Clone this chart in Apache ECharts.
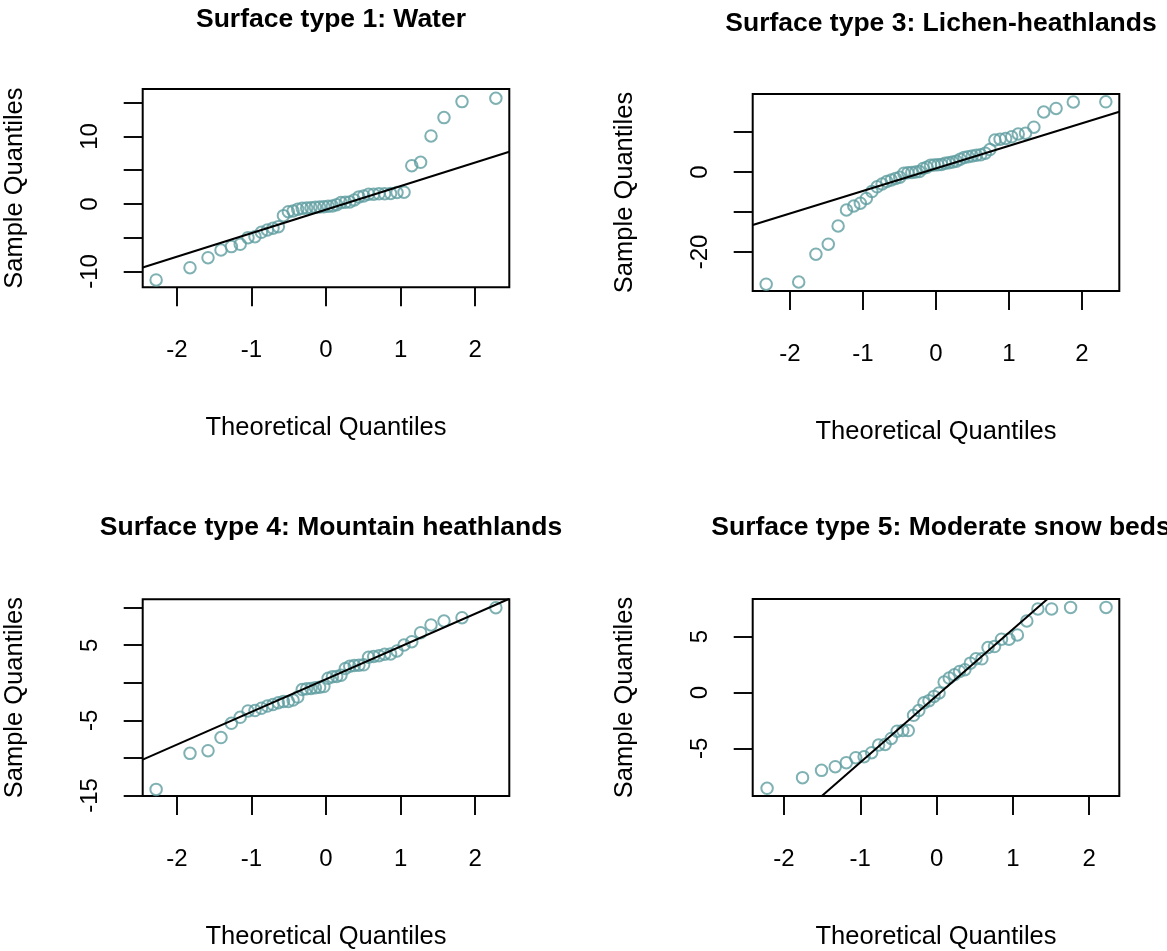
<!DOCTYPE html>
<html>
<head>
<meta charset="utf-8">
<script src="https://cdn.jsdelivr.net/npm/echarts@6/dist/echarts.min.js"></script>
<style>
html,body{margin:0;padding:0;background:#ffffff;}
#chart{width:1167px;height:951px;}
</style>
</head>
<body>
<div id="chart"></div>
<script>
// ---------- data ----------
const panelTitles = [
  'Surface type 1: Water',
  'Surface type 3: Lichen-heathlands',
  'Surface type 4: Mountain heathlands',
  'Surface type 5: Moderate snow beds'
];
const xAxisTitle = 'Theoretical Quantiles';
const yAxisTitle = 'Sample Quantiles';

// sorted sample quantiles of each panel
const water = [-11.26, -9.44, -7.96, -6.82, -6.32, -5.98, -4.99, -4.84, -4.2, -3.85, -3.6, -3.36,
  -1.73, -1.14, -1.04, -0.8, -0.65, -0.6, -0.55, -0.5, -0.45, -0.4, -0.35, -0.3, -0.1,
  0.2, 0.25, 0.3, 0.6, 1.05, 1.2, 1.45, 1.45, 1.5, 1.5, 1.55, 1.7, 1.75,
  5.68, 6.18, 10.08, 12.8, 15.17, 15.67];
const lichen = [-28.05, -27.5, -20.55, -18.05, -13.5, -9.5, -8.5, -7.8, -6.6, -4.9, -3.7, -3.0,
  -2.4, -2.0, -1.6, -1.3, -0.3, -0.2, -0.1, 0.0, 0.1, 0.9, 1.2, 1.7, 1.75, 1.8, 1.9, 2.2,
  2.3, 2.5, 2.7, 3.2, 3.6, 3.8, 4.0, 4.2, 4.3, 4.7, 5.6, 8.0, 8.2, 8.4, 8.8, 9.5, 9.7,
  11.2, 15.0, 15.9, 17.5, 17.55];
const mountain = [-14.2, -9.4, -9.05, -7.3, -5.4, -4.6, -3.75, -3.7, -3.4, -3.1, -2.9, -2.65,
  -2.5, -2.5, -2.3, -1.9, -0.9, -0.8, -0.75, -0.65, -0.6, -0.5, 0.6, 0.8, 0.85, 1.0,
  1.9, 2.2, 2.3, 2.35, 2.4, 3.4, 3.5, 3.6, 3.8, 3.85, 4.24, 5.03, 5.47, 6.67, 7.7,
  8.23, 8.67, 10.0];
const snow = [-8.56, -7.61, -6.96, -6.63, -6.27, -5.83, -5.74, -5.38, -4.70, -4.64, -4.11,
  -3.46, -3.40, -3.40, -2.04, -1.62, -0.93, -0.73, -0.35, -0.04, 0.93, 1.29, 1.58, 1.88,
  2.03, 2.62, 3.01, 3.01, 4.01, 4.10, 4.76, 4.76, 5.14, 6.39, 7.46, 7.46, 7.60, 7.60];

// reference lines (intercept, slope)
const lineIntercepts = [-0.83, 0.9, 0.48, -0.30];
const lineSlopes = [3.49, 5.64, 4.36, 5.95];

// tick values and labelled ticks
const xTickValues = [-2, -1, 0, 1, 2];
const yTickValues = [[-10, -5, 0, 5, 10, 15], [-20, -10, 0, 10], [-15, -10, -5, 0, 5, 10], [-5, 0, 5]];
const yLabelValues = [[-10, 0, 10], [-20, 0], [-15, -5, 5], [-5, 0, 5]];

// ---------- normal quantiles (as qqnorm does) ----------
function qnorm(p) {
  const a = [-3.969683028665376e+01, 2.209460984245205e+02, -2.759285104469687e+02, 1.383577518672690e+02, -3.066479806614716e+01, 2.506628277459239e+00];
  const b = [-5.447609879822406e+01, 1.615858368580409e+02, -1.556989798598866e+02, 6.680131188771972e+01, -1.328068155288572e+01];
  const c = [-7.784894002430293e-03, -3.223964580411365e-01, -2.400758277161838e+00, -2.549732539343734e+00, 4.374664141464968e+00, 2.938163982698783e+00];
  const d = [7.784695709041462e-03, 3.224671290700398e-01, 2.445134137142996e+00, 3.754408661907416e+00];
  const pl = 0.02425;
  let q, r;
  if (p < pl) {
    q = Math.sqrt(-2 * Math.log(p));
    return (((((c[0]*q+c[1])*q+c[2])*q+c[3])*q+c[4])*q+c[5]) / ((((d[0]*q+d[1])*q+d[2])*q+d[3])*q+1);
  }
  if (p > 1 - pl) {
    q = Math.sqrt(-2 * Math.log(1 - p));
    return -(((((c[0]*q+c[1])*q+c[2])*q+c[3])*q+c[4])*q+c[5]) / ((((d[0]*q+d[1])*q+d[2])*q+d[3])*q+1);
  }
  q = p - 0.5; r = q * q;
  return (((((a[0]*r+a[1])*r+a[2])*r+a[3])*r+a[4])*r+a[5])*q / (((((b[0]*r+b[1])*r+b[2])*r+b[3])*r+b[4])*r+1);
}
function ppoints(n) {
  const a = n <= 10 ? 3 / 8 : 0.5;
  const out = [];
  for (let i = 1; i <= n; i++) out.push((i - a) / (n + 1 - 2 * a));
  return out;
}

// ---------- layout ----------
const samples = [water, lichen, mountain, snow];
const layout = [
  { left: 142.7, top: 89,    width: 366.6, height: 198.3, xMin: -2.458, xMax: 2.458, yMin: -12.35, yMax: 17.04, titleTop: 1 },
  { left: 752.7, top: 94,    width: 366.6, height: 197,   xMin: -2.511, xMax: 2.511, yMin: -29.75, yMax: 19.5,  titleTop: 5 },
  { left: 142.7, top: 599.3, width: 366.6, height: 196.7, xMin: -2.458, xMax: 2.458, yMin: -15.08, yMax: 11.12, titleTop: 509.5 },
  { left: 752.7, top: 599,   width: 366.6, height: 197.7, xMin: -2.41,  xMax: 2.395, yMin: -9.25,  yMax: 8.35,  titleTop: 509.5 }
];

const FONT = 'Liberation Sans, Arial, Helvetica, sans-serif';
const PT_COLOR = '#5F9EA0';

const option = {
  animation: false,
  backgroundColor: '#ffffff',
  title: [], grid: [], xAxis: [], yAxis: [], series: []
};

layout.forEach((L, k) => {
  option.title.push({
    text: panelTitles[k],
    left: L.left + L.width / 2,
    top: L.titleTop,
    textAlign: 'center',
    textStyle: { fontFamily: FONT, fontSize: 26.5, fontWeight: 'bold', color: '#000' }
  });
  option.grid.push({
    left: L.left, top: L.top, width: L.width, height: L.height,
    show: true, borderColor: '#000', borderWidth: 2, backgroundColor: 'transparent',
    containLabel: false
  });
  option.xAxis.push({
    type: 'value', gridIndex: k, min: L.xMin, max: L.xMax, position: 'bottom',
    axisLine: { show: false, onZero: false },
    splitLine: { show: false },
    axisTick: { show: true, length: 19, lineStyle: { color: '#000', width: 1.9 }, customValues: xTickValues },
    axisLabel: { show: true, margin: 51, fontFamily: FONT, fontSize: 24, color: '#000', customValues: xTickValues },
    name: xAxisTitle, nameLocation: 'middle', nameGap: 128,
    nameTextStyle: { fontFamily: FONT, fontSize: 25.5, color: '#000' }
  });
  option.yAxis.push({
    type: 'value', gridIndex: k, min: L.yMin, max: L.yMax, position: 'left',
    axisLine: { show: false, onZero: false },
    splitLine: { show: false },
    axisTick: { show: true, length: 19, lineStyle: { color: '#000', width: 1.9 }, customValues: yTickValues[k] },
    axisLabel: { show: true, rotate: 90, margin: 40, fontFamily: FONT, fontSize: 24, color: '#000', customValues: yLabelValues[k] },
    name: yAxisTitle, nameLocation: 'middle', nameGap: 115, nameRotate: 90,
    nameTextStyle: { fontFamily: FONT, fontSize: 25.5, color: '#000' }
  });
  const ys = samples[k];
  const ps = ppoints(ys.length);
  option.series.push({
    type: 'scatter', xAxisIndex: k, yAxisIndex: k,
    symbol: 'circle', symbolSize: 11.5,
    itemStyle: { color: 'rgba(0,0,0,0)', borderColor: PT_COLOR, borderWidth: 2 },
    data: ys.map((v, i) => [qnorm(ps[i]), v]),
    silent: true
  });
  option.series.push({
    type: 'line', xAxisIndex: k, yAxisIndex: k,
    symbol: 'none', clip: true, silent: true,
    lineStyle: { color: '#000', width: 2 },
    data: [L.xMin, L.xMax].map(x => [x, lineIntercepts[k] + lineSlopes[k] * x])
  });
});

const chart = echarts.init(document.getElementById('chart'), null, { renderer: 'canvas' });
chart.setOption(option);
</script>
</body>
</html>
